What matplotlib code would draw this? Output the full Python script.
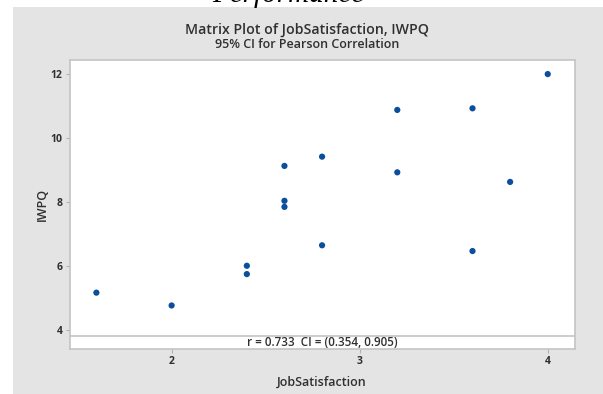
import matplotlib.pyplot as plt
from matplotlib.patches import Rectangle

# data
job_satisfaction = [1.6, 2.0, 2.4, 2.4, 2.6, 2.6, 2.6, 2.8, 2.8, 3.2, 3.2, 3.6, 3.6, 3.8, 4.0]
iwpq = [5.17, 4.77, 6.01, 5.75, 9.13, 8.04, 7.85, 9.42, 6.65, 10.88, 8.93, 10.93, 6.47, 8.63, 12.0]
x_ticks = [2, 3, 4]
y_ticks = [4, 6, 8, 10, 12]
ci_text = "r = 0.733  CI = (0.354, 0.905)"

plt.rcParams['font.family'] = ['Open Sans', 'DejaVu Sans']

fig = plt.figure(figsize=(6.03, 3.94), dpi=100)
fig.patch.set_facecolor('white')

# grey minitab panel
fig.patches.append(Rectangle((13 / 603, 0), 590 / 603, 387 / 394, transform=fig.transFigure,
                             facecolor='#e4e4e4', edgecolor='none', zorder=-10))

# cut-off heading from the surrounding document
fig.text(288 / 603, 1 - 2 / 394, "Performance", family='Liberation Serif', style='italic',
         fontsize=21, ha='center', va='baseline', color='black')

fig.text(307 / 603, 1 - 30 / 394, "Matrix Plot of JobSatisfaction, IWPQ", ha='center', va='center',
         fontsize=10.2, fontweight='semibold', color='#303030')
fig.text(307 / 603, 1 - 44 / 394, "95% CI for Pearson Correlation", ha='center', va='center',
         fontsize=9, fontweight='semibold', color='#303030')

ax = fig.add_axes([69.5 / 603, 1 - 349.3 / 394, 505.5 / 603, 289.3 / 394])
ax.set_facecolor('white')
ax.scatter(job_satisfaction, iwpq, s=20, color='#0a4f9c', edgecolors='none', zorder=3)

ax.set_xlim(1.457, 4.145)
ax.set_ylim(3.40, 12.44)
ax.axhline(3.81, color='#c4c4c4', linewidth=1.2)
ax.text((1.457 + 4.145) / 2, 3.61, ci_text, ha='center', va='center', fontsize=8.4,
        fontweight='semibold', color='#303030')

ax.set_xticks(x_ticks)
ax.set_yticks(y_ticks)
ax.tick_params(direction='out', length=3, color='#b0b0b0', labelsize=7.5, labelcolor='#303030', pad=2)
for lab in ax.get_xticklabels() + ax.get_yticklabels():
    lab.set_fontweight('bold')
for sp in ax.spines.values():
    sp.set_color('#c4c4c4')
    sp.set_linewidth(1.2)

ax.set_xlabel("JobSatisfaction", fontsize=9, fontweight='semibold', color='#303030', labelpad=6)
ax.set_ylabel("IWPQ", fontsize=9, fontweight='semibold', color='#303030', labelpad=1.5)

fig.savefig('out.png', dpi=100)
